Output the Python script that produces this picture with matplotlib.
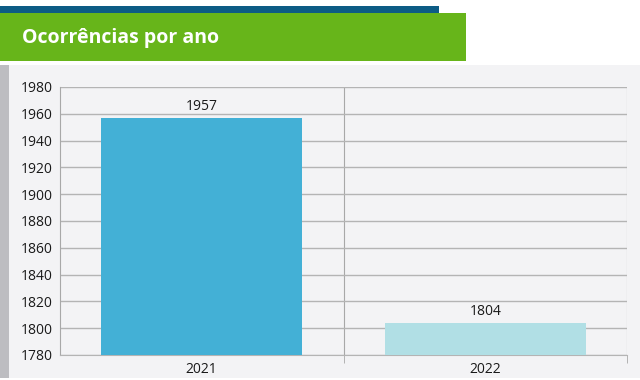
import matplotlib
matplotlib.use("Agg")
import matplotlib.pyplot as plt
from matplotlib.patches import Rectangle

categories = ["2021", "2022"]
values = [1957, 1804]
bar_colors = ["#43b0d6", "#b1dfe5"]
title = "Ocorrências por ano"
yticks = [1780, 1800, 1820, 1840, 1860, 1880, 1900, 1920, 1940, 1960, 1980]

plt.rcParams['font.family'] = ['Open Sans', 'DejaVu Sans']

W, H = 640, 380
fig = plt.figure(figsize=(6.4, 3.8), dpi=100, facecolor="white")

def px(x0, y0, x1, y1, color):
    fig.patches.append(Rectangle((x0 / W, 1 - y1 / H), (x1 - x0) / W, (y1 - y0) / H,
                                 transform=fig.transFigure, color=color, zorder=-5, lw=0))

px(0, 6, 439, 13, "#0d5c85")
px(0, 13, 466, 61, "#67b51a")
px(0, 65, 640, 378, "#f3f3f5")
px(0, 65, 9, 378, "#bdbdc1")
fig.text(22 / W, 1 - 38 / H, title, color="white", fontsize=14, fontweight="bold",
         va="center", ha="left")

ax = fig.add_axes([60 / W, 1 - 355 / H, (627 - 60) / W, (355 - 87) / H])
ax.set_zorder(5)
ax.set_facecolor("none")
x = list(range(len(categories)))
bars = ax.bar(x, values, width=0.71, color=bar_colors, zorder=3)
ax.set_ylim(1780, 1980)
ax.set_xlim(-0.5, len(categories) - 0.5)
ax.set_yticks(yticks)
ax.set_xticks(x)
ax.set_xticklabels(categories)
ax.set_xticks([i + 0.5 for i in x], minor=True)
ax.tick_params(axis="x", which="major", length=0, labelsize=10, pad=5, colors="#1a1a1a")
ax.tick_params(axis="x", which="minor", length=6, color="#a8a8a8")
ax.tick_params(axis="y", length=0, labelsize=10, pad=5, colors="#1a1a1a")
ax.grid(axis="y", color="#b4b4b4", lw=1, zorder=1)
ax.grid(axis="x", which="minor", color="#a8a8a8", lw=0.8, zorder=1)
for s in ["top", "right"]:
    ax.spines[s].set_visible(False)
ax.spines["left"].set_color("#a8a8a8")
ax.spines["bottom"].set_color("#b4b4b4")
for xi, v in zip(x, values):
    ax.annotate(str(v), (xi, v), xytext=(0, 3), textcoords="offset points",
                ha="center", va="bottom", fontsize=10, color="#1a1a1a")

fig.savefig("out.png", dpi=100, facecolor="white")
